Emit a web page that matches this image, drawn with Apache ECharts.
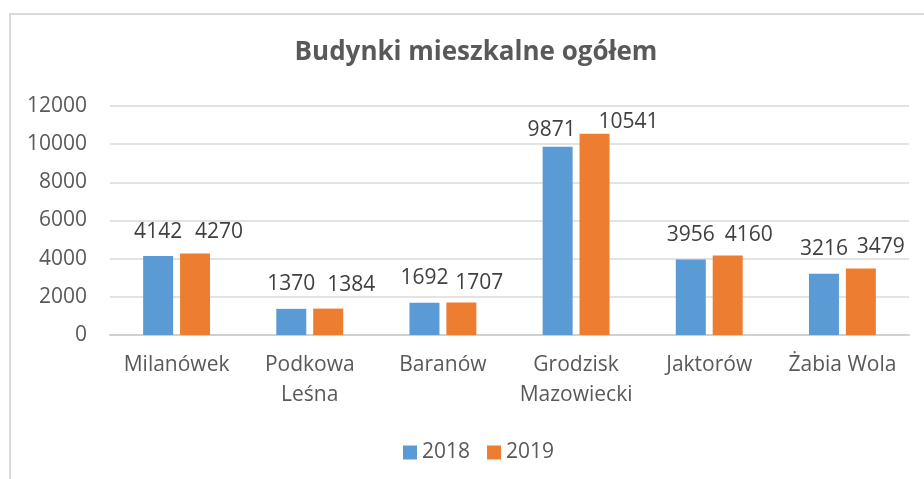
<!DOCTYPE html>
<html>
<head>
<meta charset="utf-8">
<script src="https://cdn.jsdelivr.net/npm/echarts@6/dist/echarts.min.js"></script>
<style>
  html, body { margin: 0; padding: 0; background: #fff; }
  #chart { width: 924px; height: 479px; }
</style>
</head>
<body>
<div id="chart"></div>
<script>
// dane
const categories = ['Milanówek', 'Podkowa\nLeśna', 'Baranów', 'Grodzisk\nMazowiecki', 'Jaktorów', 'Żabia Wola'];
const values2018 = [4142, 1370, 1692, 9871, 3956, 3216];
const values2019 = [4270, 1384, 1707, 10541, 4160, 3479];
const yTicks = [0, 2000, 4000, 6000, 8000, 10000, 12000];

const textColor = '#595959';
const fontFamily = '"Open Sans", sans-serif';

// przesunięcia etykiet (jak w Excelu, żeby się nie nakładały)
const shift2018 = [[0, 2], [0, 1], [0, 1], [-6, 9], [0, 1], [0, 1]];
const shift2019 = [[24, 4], [23, 2], [18, 6], [34, 14], [21, 5], [20, 4]];

const myChart = echarts.init(document.getElementById('chart'));

const options = {
  backgroundColor: '#fff',
  animation: false,
  graphic: [{
    type: 'rect',
    shape: { x: 10, y: 14, width: 2000, height: 2000 },
    style: { fill: 'none', stroke: '#d9d9d9', lineWidth: 2 },
    silent: true
  }],
  title: {
    text: 'Budynki mieszkalne ogółem',
    left: 471,
    textAlign: 'center',
    top: 35,
    textStyle: {
      fontFamily: fontFamily,
      fontSize: 26,
      fontWeight: 'bold',
      color: textColor
    }
  },
  legend: {
    data: ['2018', '2019'],
    left: 398,
    top: 437,
    icon: 'rect',
    itemWidth: 14,
    itemHeight: 14,
    itemGap: 17,
    textStyle: { fontFamily: fontFamily, fontSize: 21, color: textColor }
  },
  grid: {
    left: 110,
    right: 15,
    top: 106,
    bottom: 144,
    containLabel: false
  },
  xAxis: {
    type: 'category',
    data: categories,
    axisLine: { lineStyle: { color: '#d0d0d0', width: 2 } },
    axisTick: { show: false },
    axisLabel: {
      interval: 0,
      margin: 15,
      fontFamily: fontFamily,
      fontSize: 21,
      lineHeight: 30,
      color: textColor
    }
  },
  yAxis: {
    type: 'value',
    min: yTicks[0],
    max: yTicks[yTicks.length - 1],
    interval: 2000,
    axisLine: { show: false },
    axisTick: { show: false },
    axisLabel: {
      margin: 23,
      fontFamily: fontFamily,
      fontSize: 21,
      color: textColor,
      formatter: v => String(v)
    },
    splitLine: { lineStyle: { color: '#e3e3e3', width: 2 } }
  },
  series: [
    {
      name: '2018',
      type: 'bar',
      barWidth: 30,
      barGap: '23%',
      itemStyle: { color: '#5B9BD5' },
      data: values2018.map((v, i) => ({ value: v, label: { offset: shift2018[i] } })),
      label: {
        show: true,
        position: 'top',
        distance: 15,
        fontFamily: fontFamily,
        fontSize: 21,
        color: '#404040'
      }
    },
    {
      name: '2019',
      type: 'bar',
      barWidth: 30,
      itemStyle: { color: '#ED7D31' },
      data: values2019.map((v, i) => ({ value: v, label: { offset: shift2019[i] } })),
      label: {
        show: true,
        position: 'top',
        distance: 15,
        fontFamily: fontFamily,
        fontSize: 21,
        color: '#404040'
      }
    }
  ]
};

myChart.setOption(options);
</script>
</body>
</html>
